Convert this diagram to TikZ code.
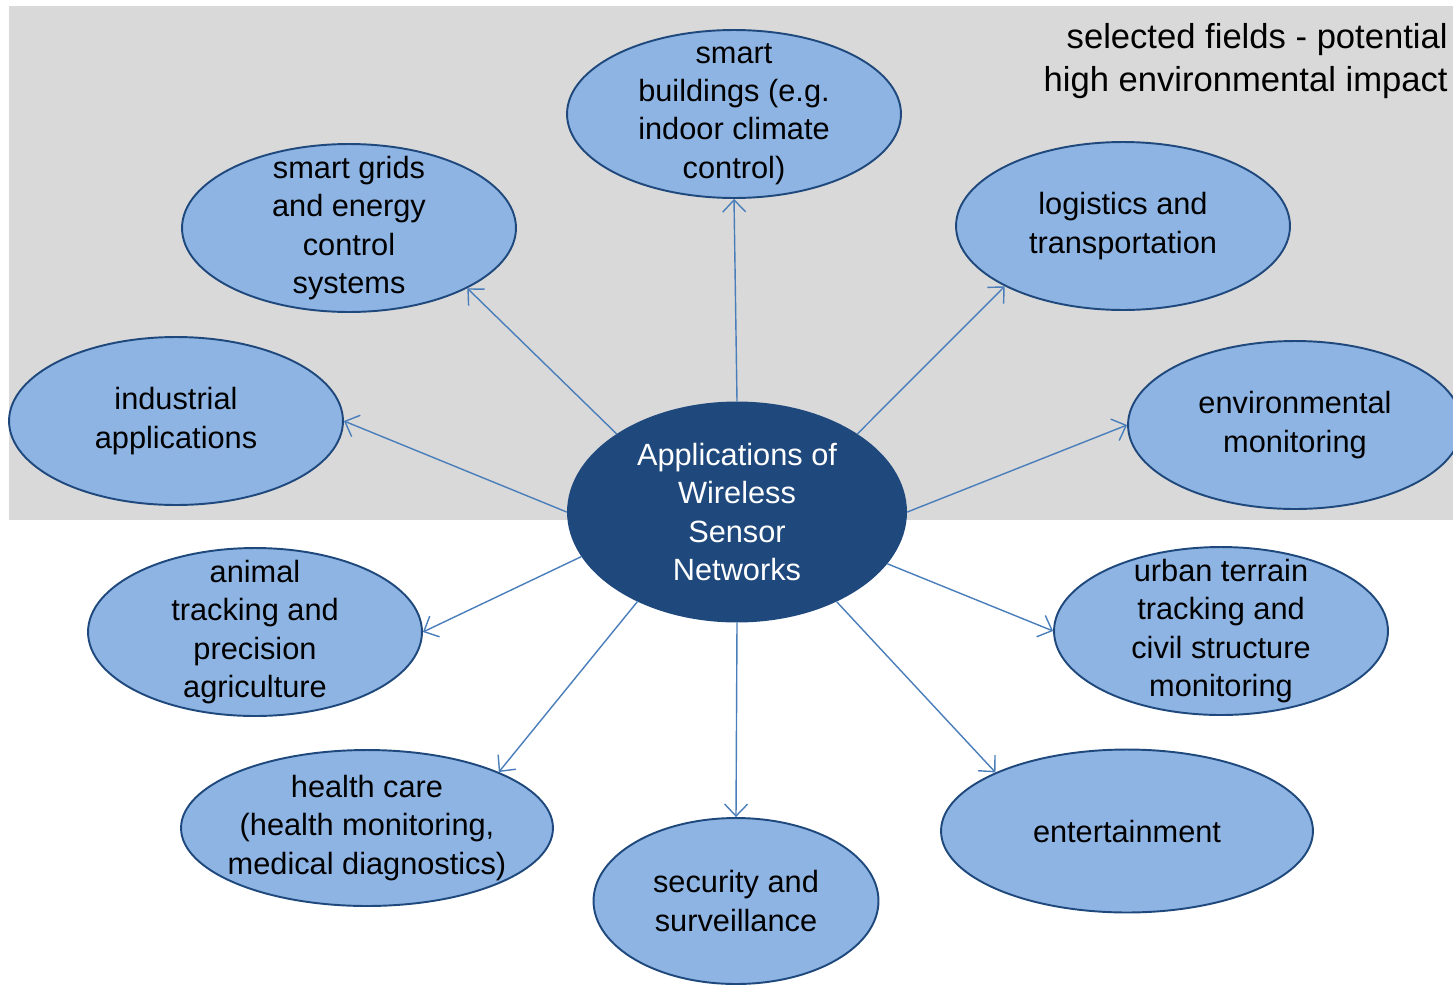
\documentclass[tikz,border=0pt]{standalone}
\usepackage{fontspec}
\setmainfont{Liberation Sans}
\usetikzlibrary{shapes.geometric,arrows.meta}
\definecolor{bgGray}{HTML}{D9D9D9}
\definecolor{fieldBlue}{HTML}{8EB4E3}
\definecolor{rimBlue}{HTML}{1F497D}
\definecolor{arrowBlue}{HTML}{4A7EBB}
\begin{document}
\begin{tikzpicture}[x=0.02cm, y=-0.02cm, >={Straight Barb[length=2.4mm,width=4.6mm]},
	font=\fontsize{17.5}{21.8}\selectfont, line join=round, line cap=round,
	field/.style={ellipse, draw=rimBlue, line width=1.1pt, fill=fieldBlue, align=center,
		inner xsep=-0.5cm, inner ysep=-0.5cm, minimum width=6.68cm, minimum height=3.36cm},
	hub/.style={ellipse, fill=rimBlue, text=white, align=center,
		inner xsep=-0.5cm, inner ysep=-0.5cm, minimum width=6.8cm, minimum height=4.42cm},
	link/.style={->, draw=arrowBlue, line width=0.8pt}]
	\useasboundingbox (0,0) rectangle (1453,984);
	\fill[bgGray] (9,6) rectangle (1453,520);
	\node[anchor=east, align=right, inner sep=0pt, font=\fontsize{19.7}{24.5}\selectfont] (note) at (1448,61)
		{selected fields - potential\\high environmental impact};
	% centre and fields
	\node[hub] (hub) at (737,512) {Applications of\\Wireless\\Sensor\\Networks};
	\node[field] (bld) at (734,114) {smart\\buildings (e.g.\\indoor climate\\control)};
	\node[field] (grid) at (349,228) {smart grids\\and energy\\control\\systems};
	\node[field] (logi) at (1123,226) {logistics and\\transportation};
	\node[field] (ind) at (176,421) {industrial\\applications};
	\node[field] (env) at (1295,425) {environmental\\monitoring};
	\node[field] (agri) at (255,632) {animal\\tracking and\\precision\\agriculture};
	\node[field] (urban) at (1221,631) {urban terrain\\tracking and\\civil structure\\monitoring};
	\node[field, minimum width=7.44cm, minimum height=3.12cm] (health) at (367,828)
		{health care\\(health monitoring,\\medical diagnostics)};
	\node[field, minimum width=5.7cm, minimum height=3.32cm] (sec) at (736,901)
		{security and\\surveillance};
	\node[field, minimum width=7.44cm, minimum height=3.26cm] (ent) at (1127,831)
		{entertainment};
	% links
	\foreach \a/\n/\b in {90/bld/270, 147/grid/333, 33/logi/207, 180/ind/0, 0/env/180,
		196/agri/0, 341/urban/180, 222/health/23, 270/sec/90, 318/ent/156}
	\draw[link] (hub.\a) -- (\n.\b);
\end{tikzpicture}
\end{document}
